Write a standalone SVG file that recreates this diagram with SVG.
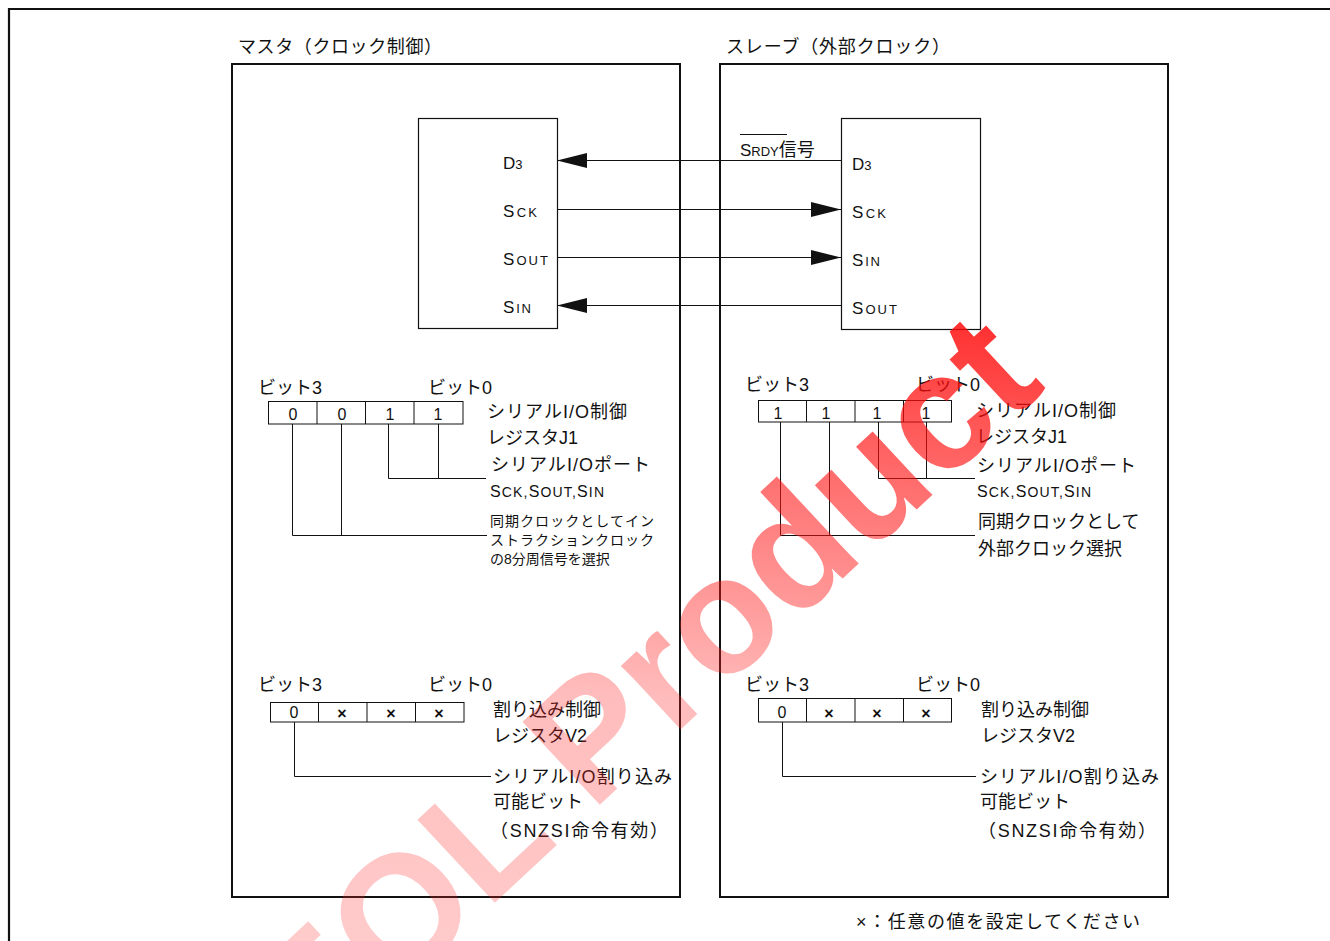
<svg xmlns="http://www.w3.org/2000/svg" width="1330" height="941" viewBox="0 0 1330 941">
<defs>
<style>
text{font-family:"Liberation Sans","Noto Sans CJK JP",sans-serif;fill:#111}
.t18{font-size:18px}
.t14{font-size:14px}
.pin{font-size:17px}
.sm{font-size:13px}
.v{font-size:16px;text-anchor:middle}
.x{font-size:16px;text-anchor:middle;font-weight:bold}
.box{fill:none;stroke:#111;stroke-width:2}
.chip{fill:none;stroke:#111;stroke-width:1.2}
.cell{fill:none;stroke:#111;stroke-width:1}
.ln{fill:none;stroke:#111;stroke-width:1}
text.wm{font-family:"Liberation Sans",Arial,sans-serif;font-weight:bold;font-size:165px;fill:url(#wmg)}
</style>
<marker id="ah" markerUnits="userSpaceOnUse" markerWidth="31" markerHeight="16" refX="30" refY="7.5" orient="auto">
<path d="M0,0 L30,7.5 L0,15 z" fill="#111"/>
</marker>
<linearGradient id="wmg" gradientUnits="userSpaceOnUse" x1="350" y1="930" x2="1030" y2="330">
<stop offset="0" stop-color="#ff3030" stop-opacity="0.22"/>
<stop offset="0.45" stop-color="#ff2020" stop-opacity="0.3"/>
<stop offset="1" stop-color="#ff0000" stop-opacity="0.95"/>
</linearGradient>
</defs>
<rect width="1330" height="941" fill="#fff"/>
<path d="M9,941 V9 H1330" fill="none" stroke="#111" stroke-width="2.2"/>

<g id="master">
<rect class="box" x="232" y="64" width="448" height="833"/>
<text class="t18" x="238" y="53" textLength="204">マスタ（クロック制御）</text>
</g>
<g id="slave">
<rect class="box" x="720" y="64" width="448" height="833"/>
<text class="t18" x="726" y="53" textLength="224">スレーブ（外部クロック）</text>
</g>

<g id="master-chip">
<rect class="chip" x="418.5" y="118.5" width="139" height="210"/>
<text class="pin" x="503" y="169">D<tspan class="sm">3</tspan></text>
<text class="pin" x="503" y="217" textLength="34">S<tspan class="sm">CK</tspan></text>
<text class="pin" x="503" y="265" textLength="45">S<tspan class="sm">OUT</tspan></text>
<text class="pin" x="503" y="313" textLength="28">S<tspan class="sm">IN</tspan></text>
</g>
<g id="slave-chip">
<rect class="chip" x="841.5" y="118.5" width="139" height="211"/>
<text class="pin" x="852" y="170">D<tspan class="sm">3</tspan></text>
<text class="pin" x="852" y="218" textLength="34">S<tspan class="sm">CK</tspan></text>
<text class="pin" x="852" y="266" textLength="28">S<tspan class="sm">IN</tspan></text>
<text class="pin" x="852" y="314" textLength="45">S<tspan class="sm">OUT</tspan></text>
</g>

<g id="srdy-label">
<text class="pin" x="740" y="156">S<tspan class="sm">RDY</tspan><tspan font-size="18">信号</tspan></text>
<line class="ln" x1="740" y1="134.5" x2="787" y2="134.5"/>
</g>

<g id="connectors">
<line class="ln" x1="841" y1="160.5" x2="557" y2="160.5" marker-end="url(#ah)"/>
<line class="ln" x1="558" y1="209.5" x2="841" y2="209.5" marker-end="url(#ah)"/>
<line class="ln" x1="558" y1="257.5" x2="841" y2="257.5" marker-end="url(#ah)"/>
<line class="ln" x1="841" y1="305.5" x2="557" y2="305.5" marker-end="url(#ah)"/>
<path class="ln" d="M388.5,424 V478.5 H486 M438.5,424 V478.5"/>
<path class="ln" d="M292.5,424 V535.5 H487 M341.5,424 V535.5"/>
<path class="ln" d="M294.5,722 V776.5 H491"/>
<path class="ln" d="M878.5,422 V478.5 H975 M926.5,422 V478.5"/>
<path class="ln" d="M780.5,422 V535.5 H975 M829.5,422 V535.5"/>
<path class="ln" d="M782.5,722 V776.5 H976"/>
</g>

<g id="master-j1">
<rect class="cell" x="268.5" y="401.5" width="194.5" height="22.5"/>
<path class="cell" d="M317,401.5 V424 M365.5,401.5 V424 M414,401.5 V424"/>
<text class="t18" x="258" y="394">ビット3</text>
<text class="t18" x="428" y="394">ビット0</text>
<text class="v" x="293" y="420">0</text>
<text class="v" x="342" y="420">0</text>
<text class="v" x="390" y="420">1</text>
<text class="v" x="438" y="420">1</text>
<text class="t18" x="487" y="418" textLength="140">シリアルI/O制御</text>
<text class="t18" x="487" y="444">レジスタJ1</text>
<text class="t18" x="491" y="471" textLength="159">シリアルI/Oポート</text>
<text class="t14" x="490" y="497" textLength="114"><tspan font-size="16">S</tspan>CK,<tspan font-size="16">S</tspan>OUT,<tspan font-size="16">S</tspan>IN</text>
<text class="t14" x="490" y="526" textLength="164">同期クロックとしてイン</text>
<text class="t14" x="490" y="545" textLength="164">ストラクションクロック</text>
<text class="t14" x="490" y="564">の8分周信号を選択</text>
</g>

<g id="master-v2">
<rect class="cell" x="270.5" y="702.5" width="193.5" height="19.5"/>
<path class="cell" d="M318.5,702.5 V722 M367,702.5 V722 M415.5,702.5 V722"/>
<text class="t18" x="258" y="691">ビット3</text>
<text class="t18" x="428" y="691">ビット0</text>
<text class="v" x="294" y="718">0</text>
<text class="x" x="342" y="719">×</text>
<text class="x" x="391" y="719">×</text>
<text class="x" x="439" y="719">×</text>
<text class="t18" x="493" y="716">割り込み制御</text>
<text class="t18" x="493" y="742">レジスタV2</text>
<text class="t18" x="493" y="783" textLength="179">シリアルI/O割り込み</text>
<text class="t18" x="493" y="808">可能ビット</text>
<text class="t18" x="490" y="837" textLength="178">（SNZSI命令有効）</text>
</g>

<g id="slave-j1">
<rect class="cell" x="758.5" y="400.5" width="193" height="21.5"/>
<path class="cell" d="M806.5,400.5 V422 M855,400.5 V422 M903.5,400.5 V422"/>
<text class="t18" x="745" y="391">ビット3</text>
<text class="t18" x="916" y="391">ビット0</text>
<text class="v" x="778" y="419">1</text>
<text class="v" x="826" y="419">1</text>
<text class="v" x="877" y="419">1</text>
<text class="v" x="926" y="419">1</text>
<text class="t18" x="976" y="417" textLength="140">シリアルI/O制御</text>
<text class="t18" x="976" y="443">レジスタJ1</text>
<text class="t18" x="977" y="472" textLength="159">シリアルI/Oポート</text>
<text class="t14" x="977" y="497" textLength="114"><tspan font-size="16">S</tspan>CK,<tspan font-size="16">S</tspan>OUT,<tspan font-size="16">S</tspan>IN</text>
<text class="t18" x="978" y="528">同期クロックとして</text>
<text class="t18" x="978" y="555">外部クロック選択</text>
</g>

<g id="slave-v2">
<rect class="cell" x="758.5" y="698.5" width="193" height="23.5"/>
<path class="cell" d="M806.5,698.5 V722 M855,698.5 V722 M903.5,698.5 V722"/>
<text class="t18" x="745" y="691">ビット3</text>
<text class="t18" x="916" y="691">ビット0</text>
<text class="v" x="782" y="718">0</text>
<text class="x" x="829" y="719">×</text>
<text class="x" x="877" y="719">×</text>
<text class="x" x="926" y="719">×</text>
<text class="t18" x="981" y="716">割り込み制御</text>
<text class="t18" x="981" y="742">レジスタV2</text>
<text class="t18" x="980" y="783" textLength="179">シリアルI/O割り込み</text>
<text class="t18" x="980" y="808">可能ビット</text>
<text class="t18" x="978" y="837" textLength="178">（SNZSI命令有効）</text>
</g>

<g id="note">
<text class="t18" x="856" y="928" textLength="284">×：任意の値を設定してください</text>
</g>

<g id="watermark">
<text class="wm" x="680" y="730" text-anchor="middle" transform="rotate(-43 680 730)">EOL Product</text>
</g>
</svg>
